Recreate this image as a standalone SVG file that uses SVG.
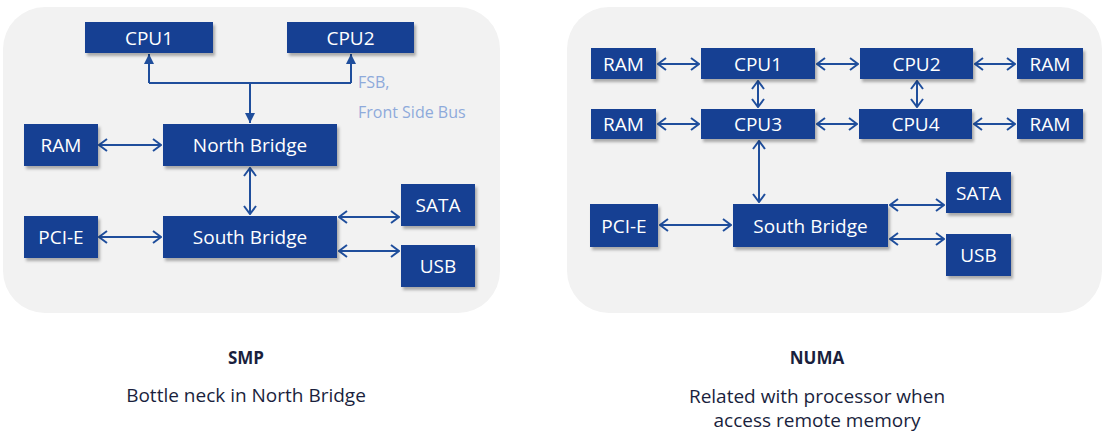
<svg xmlns="http://www.w3.org/2000/svg" width="1108" height="432" viewBox="0 0 1108 432">
<defs>
<style>
.panel{fill:#f2f2f2}
.box{fill:#154193;filter:url(#sh)}
.lbl{font-family:"Open Sans","Noto Sans",sans-serif;font-size:19px;fill:#ffffff;text-anchor:middle;dominant-baseline:central}
.con{fill:none;stroke:#1f4e9c;stroke-width:2}
.dbl{marker-start:url(#chev);marker-end:url(#chev)}
.one{marker-end:url(#tri)}
.note{font-family:"Open Sans","Noto Sans",sans-serif;font-size:16px;fill:#8eaadb}
.title{font-family:"Open Sans","Noto Sans",sans-serif;font-size:17px;font-weight:bold;fill:#1a1f3d;text-anchor:middle}
.cap{font-family:"Open Sans","Noto Sans",sans-serif;font-size:19px;fill:#1a1f3d;text-anchor:middle}
</style>
<filter id="sh" x="-10%" y="-20%" width="130%" height="160%">
<feDropShadow dx="2" dy="3" stdDeviation="1.5" flood-color="#000" flood-opacity="0.3"/>
</filter>
<marker id="chev" viewBox="0 0 10 14" refX="9" refY="7" markerWidth="10" markerHeight="14" markerUnits="userSpaceOnUse" orient="auto-start-reverse">
<path d="M1,1 L9,7 L1,13" fill="none" stroke="#1f4e9c" stroke-width="2"/>
</marker>
<marker id="tri" viewBox="0 0 10 10" refX="10" refY="5" markerWidth="10" markerHeight="10" markerUnits="userSpaceOnUse" orient="auto">
<path d="M0,0 L10,5 L0,10z" fill="#1f4e9c"/>
</marker>
</defs>

<rect class="panel" x="3" y="7" width="497" height="306" rx="42"/>
<rect class="panel" x="567" y="7" width="535" height="306" rx="42"/>

<g id="connectors">
<path class="con" d="M149,83 H351"/>
<path class="con one" d="M149,83 V54"/>
<path class="con one" d="M351,83 V54"/>
<path class="con one" d="M250,83 V123"/>
<path class="con dbl" d="M99,145 H161"/>
<path class="con dbl" d="M250,168 V214"/>
<path class="con dbl" d="M99,237 H161"/>
<path class="con dbl" d="M339,217 H399"/>
<path class="con dbl" d="M339,251 H399"/>

<path class="con dbl" d="M658,64 H699"/>
<path class="con dbl" d="M817,64 H858"/>
<path class="con dbl" d="M975,64 H1015"/>
<path class="con dbl" d="M658,124 H699"/>
<path class="con dbl" d="M817,124 H857"/>
<path class="con dbl" d="M974,124 H1015"/>
<path class="con dbl" d="M758,81 V107"/>
<path class="con dbl" d="M917,81 V107"/>
<path class="con dbl" d="M759,141 V202"/>
<path class="con dbl" d="M660,225 H731"/>
<path class="con dbl" d="M890,205 H944"/>
<path class="con dbl" d="M890,239 H944"/>
</g>

<g id="smp-cpu1"><rect class="box" x="85" y="22" width="128" height="31"/><text class="lbl" x="149" y="37.5">CPU1</text></g>
<g id="smp-cpu2"><rect class="box" x="287" y="22" width="127" height="31"/><text class="lbl" x="350.5" y="37.5">CPU2</text></g>
<g id="smp-ram"><rect class="box" x="24" y="124" width="74" height="42"/><text class="lbl" x="61" y="145">RAM</text></g>
<g id="smp-nb"><rect class="box" x="163" y="124" width="174" height="42"/><text class="lbl" x="250" y="145">North Bridge</text></g>
<g id="smp-pcie"><rect class="box" x="24" y="216" width="74" height="42"/><text class="lbl" x="61" y="237">PCI-E</text></g>
<g id="smp-sb"><rect class="box" x="163" y="216" width="174" height="42"/><text class="lbl" x="250" y="237">South Bridge</text></g>
<g id="smp-sata"><rect class="box" x="401" y="184" width="74" height="42"/><text class="lbl" x="438" y="205">SATA</text></g>
<g id="smp-usb"><rect class="box" x="401" y="245" width="74" height="42"/><text class="lbl" x="438" y="266">USB</text></g>
<g id="fsb-note"><text class="note" x="358" y="88">FSB,</text><text class="note" x="358" y="118">Front Side Bus</text></g>

<g id="numa-ram1"><rect class="box" x="591" y="48" width="65" height="31"/><text class="lbl" x="623.5" y="63.5">RAM</text></g>
<g id="numa-cpu1"><rect class="box" x="701" y="48" width="114" height="31"/><text class="lbl" x="758" y="63.5">CPU1</text></g>
<g id="numa-cpu2"><rect class="box" x="860" y="48" width="113" height="31"/><text class="lbl" x="916.5" y="63.5">CPU2</text></g>
<g id="numa-ram2"><rect class="box" x="1017" y="48" width="66" height="31"/><text class="lbl" x="1050" y="63.5">RAM</text></g>
<g id="numa-ram3"><rect class="box" x="591" y="109" width="65" height="30"/><text class="lbl" x="623.5" y="124">RAM</text></g>
<g id="numa-cpu3"><rect class="box" x="701" y="109" width="114" height="30"/><text class="lbl" x="758" y="124">CPU3</text></g>
<g id="numa-cpu4"><rect class="box" x="859" y="109" width="113" height="30"/><text class="lbl" x="915.5" y="124">CPU4</text></g>
<g id="numa-ram4"><rect class="box" x="1017" y="109" width="66" height="30"/><text class="lbl" x="1050" y="124">RAM</text></g>
<g id="numa-pcie"><rect class="box" x="590" y="204" width="68" height="43"/><text class="lbl" x="624" y="225.5">PCI-E</text></g>
<g id="numa-sb"><rect class="box" x="733" y="204" width="155" height="43"/><text class="lbl" x="810.5" y="225.5">South Bridge</text></g>
<g id="numa-sata"><rect class="box" x="946" y="172" width="65" height="41"/><text class="lbl" x="978.5" y="192.5">SATA</text></g>
<g id="numa-usb"><rect class="box" x="946" y="234" width="65" height="42"/><text class="lbl" x="978.5" y="255">USB</text></g>

<g id="captions">
<text class="title" x="246" y="364">SMP</text>
<text class="cap" x="246" y="402">Bottle neck in North Bridge</text>
<text class="title" x="817" y="364">NUMA</text>
<text class="cap" x="817" y="403">Related with processor when</text>
<text class="cap" x="817" y="427">access remote memory</text>
</g>
</svg>
